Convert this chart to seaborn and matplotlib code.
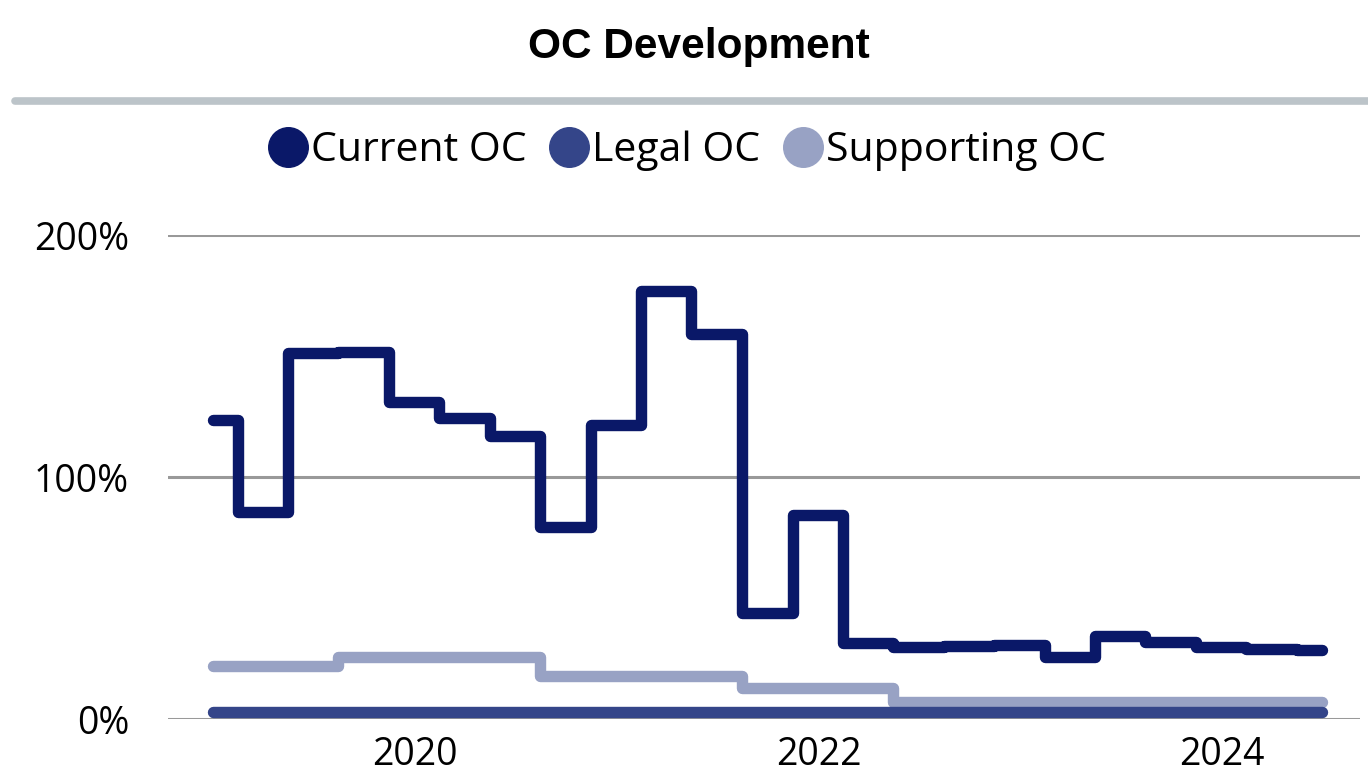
import matplotlib
matplotlib.use("Agg")
import matplotlib.pyplot as plt
import matplotlib.dates as mdates
from matplotlib.lines import Line2D
import pandas as pd
import seaborn as sns

# quarterly data points
quarters = ['2018-12-31', '2019-03-31', '2019-06-30', '2019-09-30', '2019-12-31',
            '2020-03-31', '2020-06-30', '2020-09-30', '2020-12-31', '2021-03-31',
            '2021-06-30', '2021-09-30', '2021-12-31', '2022-03-31', '2022-06-30',
            '2022-09-30', '2022-12-31', '2023-03-31', '2023-06-30', '2023-09-30',
            '2023-12-31', '2024-03-31', '2024-06-30']

current_oc = [123.6, 85.5, 151.2, 151.5, 131.0, 124.4, 116.9, 79.5, 121.5, 177.0,
              159.1, 43.7, 84.3, 31.4, 29.9, 30.3, 30.7, 25.7, 34.3, 31.9,
              29.9, 28.8, 28.6]
legal_oc = [2.7] * 23
supporting_oc = [21.9, 21.9, 21.9, 25.7, 25.7, 25.7, 25.7, 17.9, 17.9, 17.9,
                 17.9, 12.8, 12.8, 12.8, 6.9, 6.9, 6.9, 6.9, 6.9, 6.9,
                 6.9, 6.9, 6.9]

series_names = ['Current OC', 'Legal OC', 'Supporting OC']
colors = ['#0a1868', '#344589', '#98a2c4']

dates = pd.to_datetime(quarters)
df = pd.concat([
    pd.DataFrame({'date': dates, 'value': current_oc, 'series': 'Current OC'}),
    pd.DataFrame({'date': dates, 'value': legal_oc, 'series': 'Legal OC'}),
    pd.DataFrame({'date': dates, 'value': supporting_oc, 'series': 'Supporting OC'}),
])

sns.set_style('white')
plt.rcParams['font.family'] = ['Open Sans', 'DejaVu Sans']
plt.rcParams['text.color'] = 'black'

fig = plt.figure(figsize=(13.68, 7.72), dpi=100)
ax = fig.add_axes([168 / 1368, 1 - 719 / 772, (1360 - 168) / 1368, (719 - 235) / 772])

# draw in reverse so Current OC sits on top
for name, col in list(zip(series_names, colors))[::-1]:
    sub = df[df['series'] == name]
    sns.lineplot(data=sub, x='date', y='value', ax=ax, color=col, linewidth=8.2,
                 drawstyle='steps-mid', solid_capstyle='round', solid_joinstyle='round',
                 clip_on=False, legend=False)

ax.set_ylim(0, 200)
ax.set_xlim(pd.Timestamp('2018-10-11'), pd.Timestamp('2024-09-07'))
ax.set_yticks([0, 100, 200])
ax.set_yticklabels(['0%', '100%', '200%'])
ax.xaxis.set_major_locator(mdates.YearLocator(2))
ax.xaxis.set_major_formatter(mdates.DateFormatter('%Y'))
ax.set_xlabel('')
ax.set_ylabel('')
ax.grid(axis='y', color='#999999', linewidth=2.2)
ax.grid(axis='x', visible=False)
ax.set_axisbelow(True)
for s in ax.spines.values():
    s.set_visible(False)
ax.tick_params(axis='both', length=0, labelsize=27, colors='black')
ax.tick_params(axis='y', pad=28)
ax.tick_params(axis='x', pad=12)

# title and separator bar
fig.text(0.511, 1 - 47 / 772, 'OC Development', ha='center', va='center', color='black',
         fontsize=30.5, fontweight='bold', family=['Liberation Sans', 'DejaVu Sans'])
fig.add_artist(Line2D([15 / 1368, 1], [1 - 101 / 772] * 2, color='#bcc4c9', linewidth=5.5))

handles = [Line2D([], [], marker='o', linestyle='', markersize=28.5, color=c) for c in colors]
fig.legend(handles, series_names, loc='center', bbox_to_anchor=(0.505, 1 - 151 / 772),
           ncol=3, frameon=False, fontsize=29.5, handlelength=0.6, handletextpad=0.25,
           columnspacing=0.75, labelcolor='black')

fig.savefig('out.png', dpi=100)
